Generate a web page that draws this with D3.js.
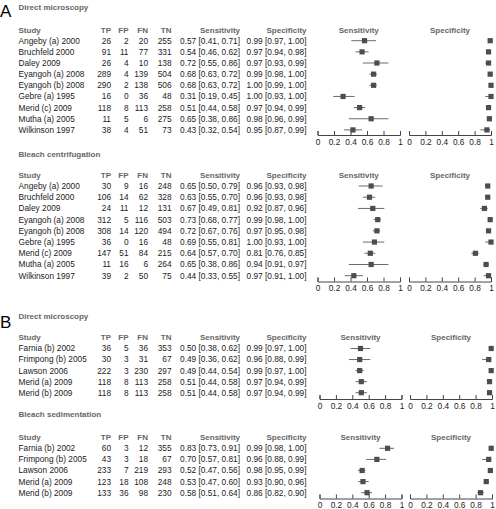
<!DOCTYPE html>
<html><head><meta charset="utf-8">
<script src="https://cdn.jsdelivr.net/npm/d3@7"></script>
<style>
html,body{margin:0;padding:0;background:#fff;}
svg{display:block;font-family:"Liberation Sans",Arial,sans-serif;}
</style></head>
<body><svg id="c" width="496" height="509"></svg>
<script>
// ---------- DATA ----------
const colHeaders = ["Study","TP","FP","FN","TN","Sensitivity","Specificity"];
const plotTitles = ["Sensitivity","Specificity"];
const tickValues = [0,0.2,0.4,0.6,0.8,1];

// Panel A - Direct microscopy
const aDirectStudies = ["Angeby (a) 2000","Bruchfeld 2000","Daley 2009","Eyangoh (a) 2008","Eyangoh (b) 2008","Gebre (a) 1995","Merid (c) 2009","Mutha (a) 2005","Wilkinson 1997"];
const aDirectCounts = [[26,2,20,255],[91,11,77,331],[26,4,10,138],[289,4,139,504],[290,2,138,506],[16,0,36,48],[118,8,113,258],[11,5,6,275],[38,4,51,73]];
const aDirectSens = [[0.57,0.41,0.71],[0.54,0.46,0.62],[0.72,0.55,0.86],[0.68,0.63,0.72],[0.68,0.63,0.72],[0.31,0.19,0.45],[0.51,0.44,0.58],[0.65,0.38,0.86],[0.43,0.32,0.54]];
const aDirectSpec = [[0.99,0.97,1.00],[0.97,0.94,0.98],[0.97,0.93,0.99],[0.99,0.98,1.00],[1.00,0.99,1.00],[1.00,0.93,1.00],[0.97,0.94,0.99],[0.98,0.96,0.99],[0.95,0.87,0.99]];

// Panel A - Bleach centrifugation
const aBleachStudies = ["Angeby (a) 2000","Bruchfeld 2000","Daley 2009","Eyangoh (a) 2008","Eyangoh (b) 2008","Gebre (a) 1995","Merid (c) 2009","Mutha (a) 2005","Wilkinson 1997"];
const aBleachCounts = [[30,9,16,248],[106,14,62,328],[24,11,12,131],[312,5,116,503],[308,14,120,494],[36,0,16,48],[147,51,84,215],[11,16,6,264],[39,2,50,75]];
const aBleachSens = [[0.65,0.50,0.79],[0.63,0.55,0.70],[0.67,0.49,0.81],[0.73,0.68,0.77],[0.72,0.67,0.76],[0.69,0.55,0.81],[0.64,0.57,0.70],[0.65,0.38,0.86],[0.44,0.33,0.55]];
const aBleachSpec = [[0.96,0.93,0.98],[0.96,0.93,0.98],[0.92,0.87,0.96],[0.99,0.98,1.00],[0.97,0.95,0.98],[1.00,0.93,1.00],[0.81,0.76,0.85],[0.94,0.91,0.97],[0.97,0.91,1.00]];

// Panel B - Direct microscopy
const bDirectStudies = ["Farnia (b) 2002","Frimpong (b) 2005","Lawson 2006","Merid (a) 2009","Merid (b) 2009"];
const bDirectCounts = [[36,5,36,353],[30,3,31,67],[222,3,230,297],[118,8,113,258],[118,8,113,258]];
const bDirectSens = [[0.50,0.38,0.62],[0.49,0.36,0.62],[0.49,0.44,0.54],[0.51,0.44,0.58],[0.51,0.44,0.58]];
const bDirectSpec = [[0.99,0.97,1.00],[0.96,0.88,0.99],[0.99,0.97,1.00],[0.97,0.94,0.99],[0.97,0.94,0.99]];

// Panel B - Bleach sedimentation
const bBleachStudies = ["Farnia (b) 2002","Frimpong (b) 2005","Lawson 2006","Merid (a) 2009","Merid (b) 2009"];
const bBleachCounts = [[60,3,12,355],[43,3,18,67],[233,7,219,293],[123,18,108,248],[133,36,98,230]];
const bBleachSens = [[0.83,0.73,0.91],[0.70,0.57,0.81],[0.52,0.47,0.56],[0.53,0.47,0.60],[0.58,0.51,0.64]];
const bBleachSpec = [[0.99,0.98,1.00],[0.96,0.88,0.99],[0.98,0.95,0.99],[0.93,0.90,0.96],[0.86,0.82,0.90]];

// ---------- LAYOUT ----------
const sections = [
  {title:"Direct microscopy", studies:aDirectStudies, counts:aDirectCounts, sens:aDirectSens, spec:aDirectSpec,
   titleY:7.5, headerY:29.7, firstRow:40.7, lastRow:129.9, axisY:135, sensX:[317.5,400], specX:[409,491]},
  {title:"Bleach centrifugation", studies:aBleachStudies, counts:aBleachCounts, sens:aBleachSens, spec:aBleachSpec,
   titleY:154, headerY:175, firstRow:186, lastRow:275.7, axisY:281.5, sensX:[317.5,400], specX:[409,491]},
  {title:"Direct microscopy", studies:bDirectStudies, counts:bDirectCounts, sens:bDirectSens, spec:bDirectSpec,
   titleY:316, headerY:337.5, firstRow:348.5, lastRow:392.7, axisY:399, sensX:[319.5,401.5], specX:[410,492]},
  {title:"Bleach sedimentation", studies:bBleachStudies, counts:bBleachCounts, sens:bBleachSens, spec:bBleachSpec,
   titleY:414.5, headerY:437, firstRow:448.3, lastRow:492.7, axisY:498.5, sensX:[319.5,401.5], specX:[410,492]}
];
const panelLetters = [{t:"A", y:17}, {t:"B", y:328}];

const countRight = [111, 128.5, 148, 171.5];
const sensTextRight = 240;
const specTextRight = 306.5;
const studyX = 18.5;

const txtCol = "#222", hdrCol = "#666", markCol = "#4d4d4d", ciCol = "#6a6a6a", axCol = "#444";
const f2 = d3.format(".2f");
const fmtCI = v => `${f2(v[0])} [${f2(v[1])}, ${f2(v[2])}]`;

const svg = d3.select("#c");

svg.selectAll("text.panel").data(panelLetters).join("text")
  .attr("class","panel").attr("x",0).attr("y",d=>d.y)
  .attr("font-size",17).attr("fill","#000").text(d=>d.t);

sections.forEach(sec => {
  const g = svg.append("g");
  const n = sec.studies.length;
  const y = d3.scalePoint().domain(d3.range(n)).range([sec.firstRow, sec.lastRow]);

  // section title
  g.append("text").attr("x",studyX).attr("y",sec.titleY).attr("dy","0.35em")
    .attr("font-size",8).attr("font-weight","bold").attr("fill",hdrCol).text(sec.title);

  // column headers
  const hdrPos = [
    {t:colHeaders[0], x:studyX, a:"start"},
    {t:colHeaders[1], x:countRight[0], a:"end"},
    {t:colHeaders[2], x:countRight[1], a:"end"},
    {t:colHeaders[3], x:countRight[2], a:"end"},
    {t:colHeaders[4], x:countRight[3], a:"end"},
    {t:colHeaders[5], x:sensTextRight, a:"end"},
    {t:colHeaders[6], x:specTextRight, a:"end"},
    {t:plotTitles[0], x:(sec.sensX[0]+sec.sensX[1])/2, a:"middle"},
    {t:plotTitles[1], x:(sec.specX[0]+sec.specX[1])/2, a:"middle"}
  ];
  g.selectAll("text.hdr").data(hdrPos).join("text").attr("class","hdr")
    .attr("x",d=>d.x).attr("y",sec.headerY).attr("dy","0.35em").attr("text-anchor",d=>d.a)
    .attr("font-size",8).attr("font-weight","bold").attr("fill",hdrCol).text(d=>d.t);

  // rows
  const rows = g.selectAll("g.row").data(d3.range(n)).join("g").attr("class","row")
    .attr("transform",i=>`translate(0,${y(i)})`);
  rows.append("text").attr("x",studyX).attr("dy","0.35em").attr("font-size",8.3).attr("fill",txtCol)
    .text(i=>sec.studies[i]);
  countRight.forEach((cx,k)=>{
    rows.append("text").attr("x",cx).attr("dy","0.35em").attr("text-anchor","end")
      .attr("font-size",8.3).attr("fill",txtCol).text(i=>sec.counts[i][k]);
  });
  rows.append("text").attr("x",sensTextRight).attr("dy","0.35em").attr("text-anchor","end")
    .attr("font-size",8.3).attr("fill",txtCol).text(i=>fmtCI(sec.sens[i]));
  rows.append("text").attr("x",specTextRight).attr("dy","0.35em").attr("text-anchor","end")
    .attr("font-size",8.3).attr("fill",txtCol).text(i=>fmtCI(sec.spec[i]));

  // forest plots
  [[sec.sens, sec.sensX],[sec.spec, sec.specX]].forEach(([vals, range])=>{
    const x = d3.scaleLinear().domain([0,1]).range(range);
    const pg = g.append("g");
    pg.selectAll("line.ci").data(vals).join("line").attr("class","ci")
      .attr("x1",d=>x(d[1])).attr("x2",d=>x(d[2]))
      .attr("y1",(d,i)=>y(i)).attr("y2",(d,i)=>y(i))
      .attr("stroke",ciCol).attr("stroke-width",1);
    pg.selectAll("rect.pt").data(vals).join("rect").attr("class","pt")
      .attr("x",d=>x(d[0])-2.6).attr("y",(d,i)=>y(i)-2.6)
      .attr("width",5.2).attr("height",5.2).attr("fill",markCol);
    const ax = d3.axisBottom(x).tickValues(tickValues).tickFormat(d3.format("~g"))
      .tickSizeInner(-4).tickSizeOuter(-4).tickPadding(4);
    const ag = pg.append("g").attr("transform",`translate(0,${sec.axisY})`).call(ax);
    ag.select(".domain").attr("stroke",axCol);
    ag.selectAll(".tick line").attr("stroke",axCol);
    ag.selectAll(".tick text").attr("font-size",8.3).attr("fill",txtCol)
      .attr("font-family","Liberation Sans, Arial, sans-serif");
  });
});
</script></body></html>
